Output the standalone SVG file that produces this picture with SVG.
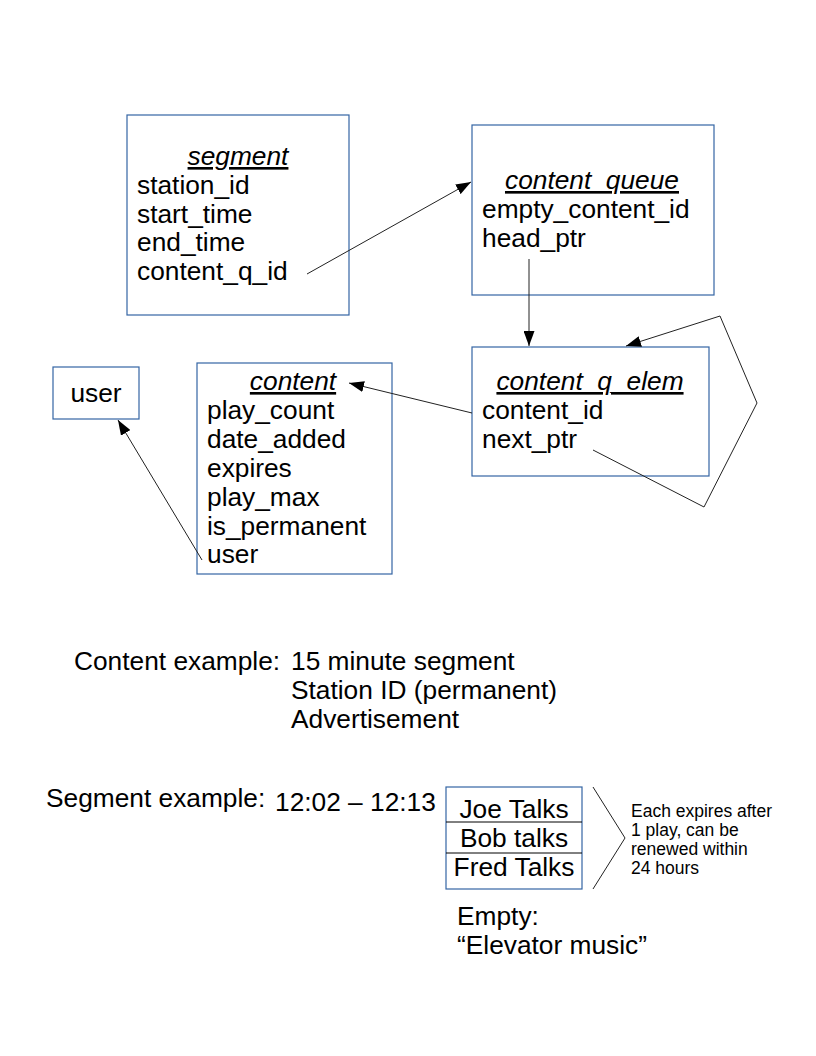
<svg xmlns="http://www.w3.org/2000/svg" width="816" height="1056" viewBox="0 0 816 1056">
<style>
text{font-family:"Liberation Sans",Arial,sans-serif;fill:#000}
.f{font-size:26.3px}
.t{font-size:26.3px;font-style:italic;text-decoration:underline;text-anchor:middle}
.s{font-size:17.5px}
.box{fill:#fff;stroke:#3465a4;stroke-width:1.2}
.ln{fill:none;stroke:#222;stroke-width:1}
</style>
<defs>
<marker id="ah" markerUnits="userSpaceOnUse" markerWidth="16" markerHeight="11" refX="15" refY="5.5" orient="auto">
<path d="M0,0 L15,5.5 L0,11 z" fill="#000"/>
</marker>
</defs>
<rect width="816" height="1056" fill="#fff"/>

<g id="segment">
<rect class="box" x="127" y="115" width="222" height="200"/>
<text class="t" x="238" y="165">segment</text>
<text class="f" x="137" y="194">station_id</text>
<text class="f" x="137" y="223">start_time</text>
<text class="f" x="137" y="251">end_time</text>
<text class="f" x="137" y="280">content_q_id</text>
</g>

<g id="content_queue">
<rect class="box" x="472" y="125" width="242" height="170"/>
<text class="t" x="592" y="189">content_queue</text>
<text class="f" x="482" y="218">empty_content_id</text>
<text class="f" x="482" y="247">head_ptr</text>
</g>

<g id="content_q_elem">
<rect class="box" x="472" y="347" width="237" height="129"/>
<text class="t" x="590" y="390">content_q_elem</text>
<text class="f" x="482" y="419">content_id</text>
<text class="f" x="482" y="448">next_ptr</text>
</g>

<g id="content">
<rect class="box" x="197" y="363" width="195" height="211"/>
<text class="t" x="293" y="390">content</text>
<text class="f" x="207" y="419">play_count</text>
<text class="f" x="207" y="448">date_added</text>
<text class="f" x="207" y="477">expires</text>
<text class="f" x="207" y="506">play_max</text>
<text class="f" x="207" y="535">is_permanent</text>
<text class="f" x="207" y="563">user</text>
</g>

<g id="user">
<rect class="box" x="53" y="367" width="86" height="52"/>
<text class="f" x="96" y="402" text-anchor="middle">user</text>
</g>

<g id="connectors">
<line class="ln" x1="307" y1="274" x2="471" y2="182" marker-end="url(#ah)"/>
<line class="ln" x1="529" y1="259" x2="529" y2="346" marker-end="url(#ah)"/>
<polyline class="ln" points="593,450 704,507 757,403 720,316 626,346" marker-end="url(#ah)"/>
<line class="ln" x1="472" y1="413" x2="349" y2="383" marker-end="url(#ah)"/>
<line class="ln" x1="202" y1="560" x2="118" y2="420" marker-end="url(#ah)"/>
</g>

<g id="content_example">
<text class="f" x="74" y="670">Content example:</text>
<text class="f" x="291" y="670">15 minute segment</text>
<text class="f" x="291" y="699">Station ID (permanent)</text>
<text class="f" x="291" y="728">Advertisement</text>
</g>

<g id="segment_example">
<text class="f" x="46" y="807">Segment example:</text>
<text class="f" x="275" y="811">12:02 – 12:13</text>
</g>

<g id="queue_example">
<rect class="box" x="446" y="787" width="136" height="102"/>
<line x1="446" y1="822" x2="582" y2="822" stroke="#000" stroke-width="1"/>
<line x1="446" y1="853" x2="582" y2="853" stroke="#000" stroke-width="1"/>
<text class="f" x="514" y="818" text-anchor="middle">Joe Talks</text>
<text class="f" x="514" y="847" text-anchor="middle">Bob talks</text>
<text class="f" x="514" y="876" text-anchor="middle">Fred Talks</text>
</g>

<g id="bracket">
<polyline class="ln" points="593,787 625,838 593,889"/>
</g>

<g id="note">
<text class="s" x="631" y="817">Each expires after</text>
<text class="s" x="631" y="836">1 play, can be</text>
<text class="s" x="631" y="855">renewed within</text>
<text class="s" x="631" y="874">24 hours</text>
</g>

<g id="empty_note">
<text class="f" x="457" y="925">Empty:</text>
<text class="f" x="457" y="954">“Elevator music”</text>
</g>
</svg>
